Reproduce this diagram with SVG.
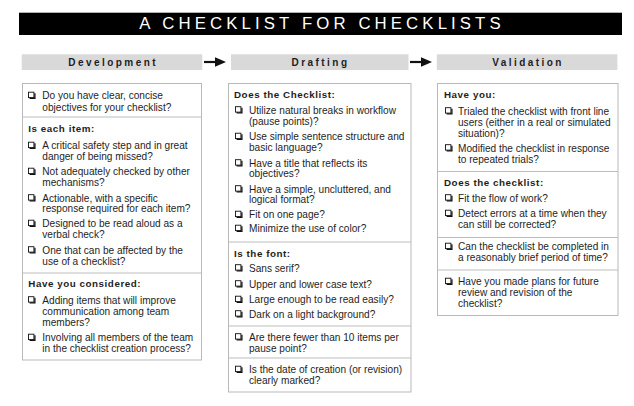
<svg xmlns="http://www.w3.org/2000/svg" xmlns:xlink="http://www.w3.org/1999/xlink" width="634" height="406" viewBox="0 0 634 406">
<style>
text{font-family:"Liberation Sans",Arial,sans-serif;fill:#1e1e1e}
.title{font-size:16.8px;fill:#fff;letter-spacing:4.1px}
.hdr{font-size:10px;font-weight:bold;letter-spacing:2.45px}
.b{font-size:10.1px}
.h{font-size:9.8px;font-weight:bold;letter-spacing:0.55px}
.bar{fill:#d9d9d9}
.box{fill:#fff;stroke:#b9b9b9;stroke-width:1}
.div{stroke:#bdbdbd;stroke-width:1.2}
.arr{stroke:#111;stroke-width:2.2;fill:none}
</style>
<defs>
<g id="cb">
<rect x="0.5" y="-6.8" width="5.4" height="5.4" fill="#fff" stroke="#111" stroke-width="0.9"/>
<path d="M1.6 -0.6 H6.9 V-5.8" fill="none" stroke="#111" stroke-width="1.3"/>
</g>
<marker id="ah" markerUnits="userSpaceOnUse" markerWidth="11" markerHeight="9.6" refX="1" refY="4.8" orient="auto" viewBox="0 0 11 9.6">
<path d="M0 0 L11 4.8 L0 9.6 Z" fill="#111"/>
</marker>
</defs>
<rect width="634" height="406" fill="#fff"/>

<g id="title">
<rect x="19" y="12.7" width="603" height="22.3" fill="#000"/>
<text class="title" x="322" y="28.8" text-anchor="middle">A CHECKLIST FOR CHECKLISTS</text>
</g>

<g id="hdr-development">
<rect class="bar" x="21.7" y="54.3" width="180.6" height="15.7"/>
<text class="hdr" x="113.2" y="65.7" text-anchor="middle">Development</text>
</g>
<g id="hdr-drafting">
<rect class="bar" x="231" y="54.3" width="177.5" height="15.7"/>
<text class="hdr" x="320.5" y="65.7" text-anchor="middle">Drafting</text>
</g>
<g id="hdr-validation">
<rect class="bar" x="436.8" y="54.3" width="180.6" height="15.7"/>
<text class="hdr" x="528" y="65.7" text-anchor="middle">Validation</text>
</g>

<g id="connectors">
<line class="arr" x1="204" y1="62" x2="216" y2="62" marker-end="url(#ah)"/>
<line class="arr" x1="410" y1="62" x2="422" y2="62" marker-end="url(#ah)"/>
</g>

<g id="box-development">
<rect class="box" x="22.5" y="83.5" width="179" height="276.5"/>
<line class="div" x1="22.5" y1="117" x2="201.5" y2="117"/>
<line class="div" x1="22.5" y1="273" x2="201.5" y2="273"/>
<use xlink:href="#cb" x="28" y="99"/>
<text class="b" x="42.3" y="99">Do you have clear, concise</text>
<text class="b" x="42.3" y="110.5">objectives for your checklist?</text>
<text class="h" x="28.3" y="131.5">Is each item:</text>
<use xlink:href="#cb" x="28" y="149"/>
<text class="b" x="42.3" y="149">A critical safety step and in great</text>
<text class="b" x="42.3" y="160">danger of being missed?</text>
<use xlink:href="#cb" x="28" y="175"/>
<text class="b" x="42.3" y="175">Not adequately checked by other</text>
<text class="b" x="42.3" y="186">mechanisms?</text>
<use xlink:href="#cb" x="28" y="201.5"/>
<text class="b" x="42.3" y="201.5">Actionable, with a specific</text>
<text class="b" x="42.3" y="212">response required for each item?</text>
<use xlink:href="#cb" x="28" y="227"/>
<text class="b" x="42.3" y="227">Designed to be read aloud as a</text>
<text class="b" x="42.3" y="238">verbal check?</text>
<use xlink:href="#cb" x="28" y="253.5"/>
<text class="b" x="42.3" y="253.5">One that can be affected by the</text>
<text class="b" x="42.3" y="264.5">use of a checklist?</text>
<text class="h" x="28.3" y="287">Have you considered:</text>
<use xlink:href="#cb" x="28" y="303.5"/>
<text class="b" x="42.3" y="303.5">Adding items that will improve</text>
<text class="b" x="42.3" y="314.5">communication among team</text>
<text class="b" x="42.3" y="325.5">members?</text>
<use xlink:href="#cb" x="28" y="341"/>
<text class="b" x="42.3" y="341">Involving all members of the team</text>
<text class="b" x="42.3" y="352">in the checklist creation process?</text>
</g>

<g id="box-drafting">
<rect class="box" x="228.5" y="83.5" width="182.5" height="308.5"/>
<line class="div" x1="228.5" y1="242" x2="411" y2="242"/>
<line class="div" x1="228.5" y1="326" x2="411" y2="326"/>
<line class="div" x1="228.5" y1="358" x2="411" y2="358"/>
<text class="h" x="234" y="97.5">Does the Checklist:</text>
<use xlink:href="#cb" x="235" y="113.5"/>
<text class="b" x="249" y="113.5">Utilize natural breaks in workflow</text>
<text class="b" x="249" y="124.5">(pause points)?</text>
<use xlink:href="#cb" x="235" y="140"/>
<text class="b" x="249" y="140">Use simple sentence structure and</text>
<text class="b" x="249" y="151">basic language?</text>
<use xlink:href="#cb" x="235" y="166.5"/>
<text class="b" x="249" y="166.5">Have a title that reflects its</text>
<text class="b" x="249" y="177">objectives?</text>
<use xlink:href="#cb" x="235" y="192.5"/>
<text class="b" x="249" y="192.5">Have a simple, uncluttered, and</text>
<text class="b" x="249" y="203">logical format?</text>
<use xlink:href="#cb" x="235" y="218"/>
<text class="b" x="249" y="218">Fit on one page?</text>
<use xlink:href="#cb" x="235" y="232"/>
<text class="b" x="249" y="232">Minimize the use of color?</text>
<text class="h" x="234" y="256.5">Is the font:</text>
<use xlink:href="#cb" x="235" y="271.5"/>
<text class="b" x="249" y="271.5">Sans serif?</text>
<use xlink:href="#cb" x="235" y="287.5"/>
<text class="b" x="249" y="287.5">Upper and lower case text?</text>
<use xlink:href="#cb" x="235" y="303"/>
<text class="b" x="249" y="303">Large enough to be read easily?</text>
<use xlink:href="#cb" x="235" y="317.5"/>
<text class="b" x="249" y="317.5">Dark on a light background?</text>
<use xlink:href="#cb" x="235" y="340.5"/>
<text class="b" x="249" y="340.5">Are there fewer than 10 items per</text>
<text class="b" x="249" y="351.5">pause point?</text>
<use xlink:href="#cb" x="235" y="373"/>
<text class="b" x="249" y="373">Is the date of creation (or revision)</text>
<text class="b" x="249" y="384">clearly marked?</text>
</g>

<g id="box-validation">
<rect class="box" x="437.5" y="83.5" width="180.5" height="232"/>
<line class="div" x1="437.5" y1="171.5" x2="618" y2="171.5"/>
<line class="div" x1="437.5" y1="237.5" x2="618" y2="237.5"/>
<line class="div" x1="437.5" y1="270" x2="618" y2="270"/>
<text class="h" x="444" y="98">Have you:</text>
<use xlink:href="#cb" x="445" y="114.5"/>
<text class="b" x="458" y="114.5">Trialed the checklist with front line</text>
<text class="b" x="458" y="125.5">users (either in a real or simulated</text>
<text class="b" x="458" y="136.5">situation)?</text>
<use xlink:href="#cb" x="445" y="151.5"/>
<text class="b" x="458" y="151.5">Modified the checklist in response</text>
<text class="b" x="458" y="162.5">to repeated trials?</text>
<text class="h" x="444" y="185.5">Does the checklist:</text>
<use xlink:href="#cb" x="445" y="201.5"/>
<text class="b" x="458" y="201.5">Fit the flow of work?</text>
<use xlink:href="#cb" x="445" y="217"/>
<text class="b" x="458" y="217">Detect errors at a time when they</text>
<text class="b" x="458" y="228">can still be corrected?</text>
<use xlink:href="#cb" x="445" y="250"/>
<text class="b" x="458" y="250">Can the checklist be completed in</text>
<text class="b" x="458" y="261">a reasonably brief period of time?</text>
<use xlink:href="#cb" x="445" y="285"/>
<text class="b" x="458" y="285">Have you made plans for future</text>
<text class="b" x="458" y="296">review and revision of the</text>
<text class="b" x="458" y="307">checklist?</text>
</g>
</svg>
